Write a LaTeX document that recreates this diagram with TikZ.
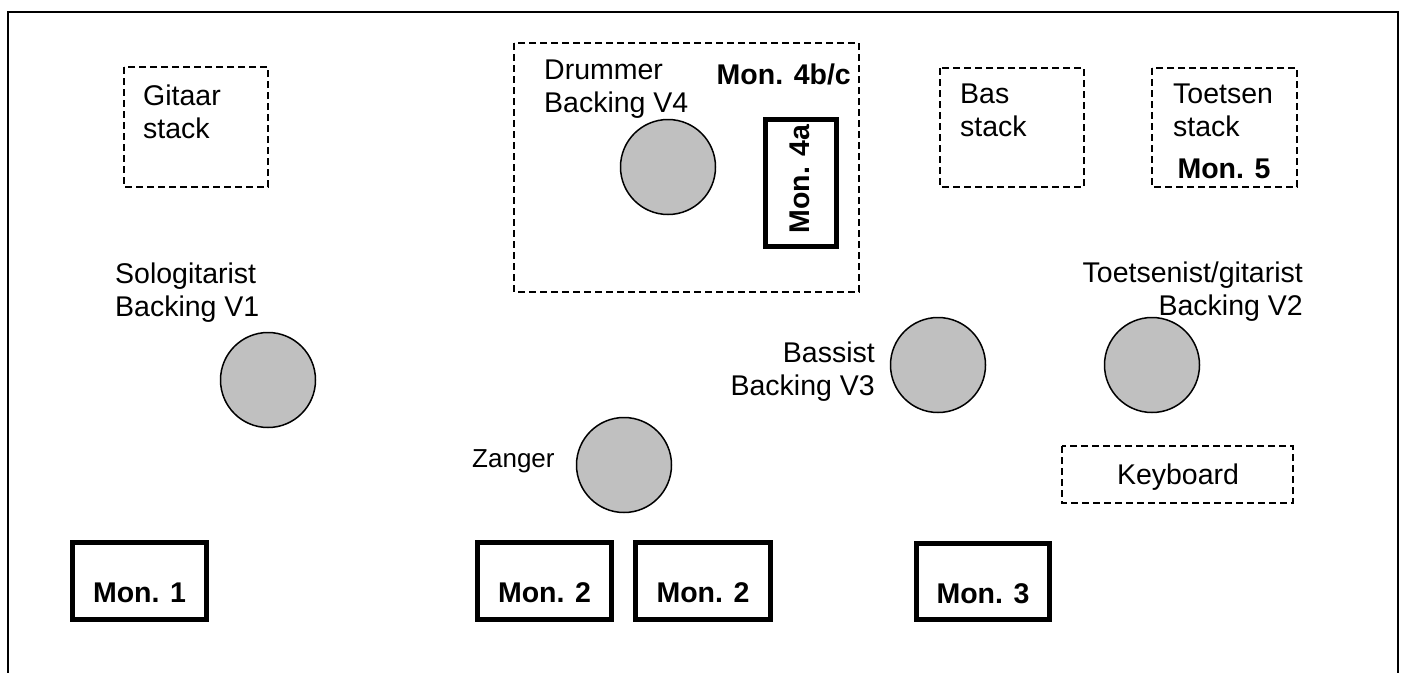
\documentclass[tikz,border=0pt]{standalone}
\usepackage{fontspec}
\setmainfont{Liberation Sans}
\definecolor{persongray}{RGB}{192,192,192}
\begin{document}
\begin{tikzpicture}[x=1pt,y=-1pt,
  lbl/.style={inner sep=0pt, font=\fontsize{28.5}{33}\selectfont},
  boldlbl/.style={inner sep=0pt, font=\fontsize{28.5}{33}\selectfont\bfseries},
  dashbox/.style={draw, line width=1.5pt, dash pattern=on 7pt off 4pt},
  monbox/.style={draw, line width=5pt},
  person/.style={circle, draw, line width=1.5pt, fill=persongray, minimum size=95pt, inner sep=0pt}]
\useasboundingbox (0,0) rectangle (1405,672);
% outer frame
\draw[line width=2pt] (8,11.5) rectangle (1398,700);

% dashed areas
\draw[dashbox] (124,67) rectangle (268,187);
\draw[dashbox] (514,43) rectangle (859,292);
\draw[dashbox] (940,68) rectangle (1084,187);
\draw[dashbox] (1152,68) rectangle (1297,187);
\draw[dashbox] (1062,446) rectangle (1293,503);

% monitor boxes
\draw[monbox] (72.5,542.5) rectangle (206.5,619.5);
\draw[monbox] (477.5,542.5) rectangle (611.5,619.5);
\draw[monbox] (635.5,542.5) rectangle (770.5,619.5);
\draw[monbox] (916.5,543.5) rectangle (1049.5,619.5);
\draw[monbox] (765.5,119.5) rectangle (836.5,246.5);

% persons
\node[person] (drummer) at (668,167) {};
\node[person] (solo) at (268,380) {};
\node[person] (zanger) at (624,465) {};
\node[person] (bassist) at (938,365) {};
\node[person] (toets) at (1152,365) {};

% texts
\node[lbl, align=left, anchor=north west] (gitaartxt) at (143,84.5) {Gitaar\\stack};
\node[lbl, align=left, anchor=north west] (drumtxt) at (544,59.5) {Drummer\\Backing V4};
\node[boldlbl, anchor=base east] (mon4bc) at (851,84) {Mon. 4b/c};
\node[boldlbl, rotate=90] (mon4a) at (800,179) {Mon. 4a};
\node[lbl, align=left, anchor=north west] (bastxt) at (960,83.5) {Bas\\stack};
\node[lbl, align=left, anchor=north west] (toetstxt) at (1173,83.5) {Toetsen\\stack};
\node[boldlbl, anchor=base] (mon5) at (1224,178) {Mon. 5};
\node[lbl, align=left, anchor=north west] (solotxt) at (115,262.5) {Sologitarist\\Backing V1};
\node[lbl, align=right, anchor=north east] (bassisttxt) at (875,341.5) {Bassist\\Backing V3};
\node[lbl, align=right, anchor=north east] (toetsentxt) at (1303,261.5) {Toetsenist/gitarist\\Backing V2};
\node[inner sep=0pt, font=\fontsize{26}{30}\selectfont, anchor=base west] (zangertxt) at (472,467) {Zanger};
\node[lbl, anchor=base] (keyboard) at (1178,484) {Keyboard};
\node[boldlbl, anchor=base] (mon1) at (139.5,602) {Mon. 1};
\node[boldlbl, anchor=base] (mon2a) at (544.5,602) {Mon. 2};
\node[boldlbl, anchor=base] (mon2b) at (703,602) {Mon. 2};
\node[boldlbl, anchor=base] (mon3) at (983,603) {Mon. 3};
\end{tikzpicture}
\end{document}
